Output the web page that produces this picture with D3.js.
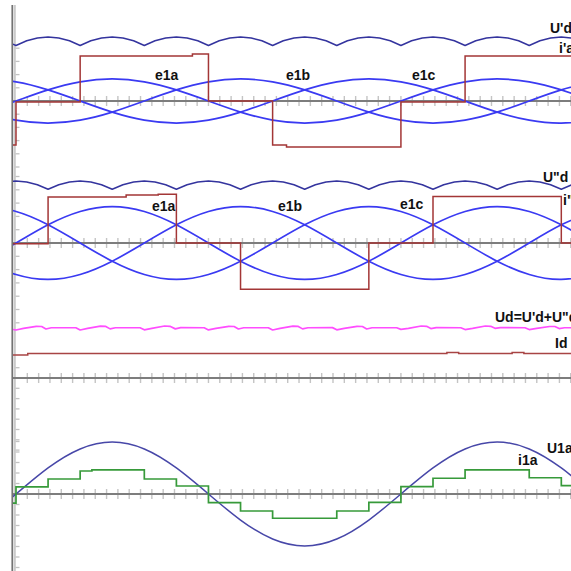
<!DOCTYPE html>
<html>
<head>
<meta charset="utf-8">
<script src="https://cdn.jsdelivr.net/npm/d3@7/dist/d3.min.js"></script>
<style>
  body { margin: 0; background: #fff; }
  svg { display: block; }
  text { font-family: "Liberation Sans", Arial, sans-serif; font-weight: bold; font-size: 14px; fill: #111; }
</style>
</head>
<body>
<div id="chart"></div>
<script>
const WIDTH = 571;
const HEIGHT = 571;

// --------------- Data (electrical angle in degrees, values in grid units) ---------------
// sine samples every 30 degrees, from -30 to 540
const sineAngles = d3.range(-30, 541, 30);
const e1a_top = [-0.84, 0, 0.84, 1.45, 1.67, 1.45, 0.84, 0, -0.84, -1.45, -1.67, -1.45, -0.84, 0, 0.84, 1.45, 1.67, 1.45, 0.84, 0];
const e1b_top = [-0.84, -1.45, -1.67, -1.45, -0.84, 0, 0.84, 1.45, 1.67, 1.45, 0.84, 0, -0.84, -1.45, -1.67, -1.45, -0.84, 0, 0.84, 1.45];
const e1c_top = [1.67, 1.45, 0.84, 0, -0.84, -1.45, -1.67, -1.45, -0.84, 0, 0.84, 1.45, 1.67, 1.45, 0.84, 0, -0.84, -1.45, -1.67, -1.45];

const e1a_mid = [-1.37, 0, 1.37, 2.37, 2.74, 2.37, 1.37, 0, -1.37, -2.37, -2.74, -2.37, -1.37, 0, 1.37, 2.37, 2.74, 2.37, 1.37, 0];
const e1b_mid = [-1.37, -2.37, -2.74, -2.37, -1.37, 0, 1.37, 2.37, 2.74, 2.37, 1.37, 0, -1.37, -2.37, -2.74, -2.37, -1.37, 0, 1.37, 2.37];
const e1c_mid = [2.74, 2.37, 1.37, 0, -1.37, -2.37, -2.74, -2.37, -1.37, 0, 1.37, 2.37, 2.74, 2.37, 1.37, 0, -1.37, -2.37, -2.74, -2.37];

const u1a = [-2.48, 0, 2.48, 4.29, 4.95, 4.29, 2.48, 0, -2.48, -4.29, -4.95, -4.29, -2.48, 0, 2.48, 4.29, 4.95, 4.29, 2.48, 0];

// rectified voltages sampled every 10 degrees, from -10 to 520
const rippleAngles = d3.range(-10, 521, 10);
const udPrime = [4.56,
  4.2, 4.56, 4.77, 4.85, 4.77, 4.56, 4.2, 4.56, 4.77, 4.85, 4.77, 4.56,
  4.2, 4.56, 4.77, 4.85, 4.77, 4.56, 4.2, 4.56, 4.77, 4.85, 4.77, 4.56,
  4.2, 4.56, 4.77, 4.85, 4.77, 4.56, 4.2, 4.56, 4.77, 4.85, 4.77, 4.56,
  4.2, 4.56, 4.77, 4.85, 4.77, 4.56, 4.2, 4.56, 4.77, 4.85, 4.77, 4.56,
  4.2, 4.56, 4.77, 4.85, 4.77];
const udSecond = [4.59,
  4.66, 4.59, 4.38, 4.04, 4.38, 4.59, 4.66, 4.59, 4.38, 4.04, 4.38, 4.59,
  4.66, 4.59, 4.38, 4.04, 4.38, 4.59, 4.66, 4.59, 4.38, 4.04, 4.38, 4.59,
  4.66, 4.59, 4.38, 4.04, 4.38, 4.59, 4.66, 4.59, 4.38, 4.04, 4.38, 4.59,
  4.66, 4.59, 4.38, 4.04, 4.38, 4.59, 4.66, 4.59, 4.38, 4.04, 4.38, 4.59,
  4.66, 4.59, 4.38, 4.04, 4.38];

// total output voltage Ud (angle, value)
const udTotal = [[-4, 4.73], [0, 4.66], [7, 4.81], [19, 5.02], [24, 5.0], [28, 4.76], [33, 4.88], [56, 4.88],
  [60, 4.66], [67, 4.81], [79, 5.03], [84, 5.01], [88, 4.77], [93, 4.88], [116, 4.88],
  [120, 4.68], [127, 4.82], [139, 5.05], [144, 5.02], [149, 4.77], [154, 4.89], [176, 4.88],
  [180, 4.67], [187, 4.81], [199, 5.02], [204, 5.0], [208, 4.76], [213, 4.88], [236, 4.88],
  [240, 4.66], [247, 4.81], [259, 5.03], [264, 5.01], [268, 4.77], [273, 4.88], [296, 4.89],
  [300, 4.68], [307, 4.81], [319, 5.02], [324, 5.0], [328, 4.76], [333, 4.88], [356, 4.88],
  [360, 4.72], [367, 4.82], [379, 5.05], [384, 5.02], [388, 4.8], [393, 4.89], [416, 4.88],
  [420, 4.7], [427, 4.81], [439, 5.05], [444, 5.02], [448, 4.82], [453, 4.89], [476, 4.88],
  [480, 4.7], [487, 4.81], [499, 5.0], [504, 5.0], [508, 4.8], [513, 4.88], [525, 4.88]];

// step waveforms: switching angles and the level held after each one
const iaPrimeT = [-4, 0, 60, 165, 180, 240, 253, 360, 420, 525];
const iaPrimeV = [-3.33, -0.08, 3.41, 3.56, 0, -3.33, -3.48, -0.08, 3.41];

const iaSecondT = [-4, 30, 103, 133, 150, 210, 330, 390, 510, 525];
const iaSecondV = [-0.05, 3.46, 3.6, 3.67, 0, -3.48, 0, 3.5, 0];

const idT = [-4, 11, 403, 414, 464, 475, 525];
const idV = [2.23, 2.38, 2.48, 2.38, 2.48, 2.38];

const i1aT = [-4, 0, 30, 60, 71, 120, 150, 180, 210, 240, 300, 330, 360, 390, 420, 480, 510, 525];
const i1aV = [-0.86, 0.67, 1.43, 2.19, 2.29, 1.43, 0.76, -0.83, -1.62, -2.31, -1.62, -0.8, 0.7, 1.5, 2.29, 1.55, 0.79];

const labelTexts = ["U'd", "i'a", "e1a", "e1b", "e1c", "U\"d", "i\"a", "e1a", "e1b", "e1c", "Ud=U'd+U\"d", "Id", "U1a", "i1a"];

// --------------- Layout ---------------
const panels = [
  { zero: 101, unit: 13.2, kMin: -5, kMax: 4 },
  { zero: 243, unit: 13.3, kMin: -6, kMax: 5 },
  { zero: 378, unit: 10.3, kMin: -7, kMax: 1 },
  { zero: 494, unit: 10.5, kMin: -8, kMax: 5 }
];
const labelPos = [
  [550, 33], [559, 53], [155, 80], [286, 80], [412, 80],
  [543, 182], [563, 205], [152, 211], [278, 211], [400, 209],
  [495, 322], [555, 348], [547, 453], [518, 465]
];

const x = d3.scaleLinear().domain([0, 520]).range([16, 572]);
const yScales = panels.map(p => d3.scaleLinear()
  .domain([p.kMin, p.kMax])
  .range([p.zero - p.kMin * p.unit, p.zero - p.kMax * p.unit]));

const svg = d3.select("#chart").append("svg")
  .attr("width", WIDTH)
  .attr("height", HEIGHT);

svg.append("defs").append("clipPath").attr("id", "plot")
  .append("rect").attr("x", 13).attr("y", 0).attr("width", WIDTH - 13).attr("height", HEIGHT);

// vertical axis (double line)
svg.append("line").attr("x1", 14.6).attr("x2", 14.6).attr("y1", 5).attr("y2", HEIGHT)
  .attr("stroke", "#cacaca").attr("stroke-width", 2.4);
svg.append("line").attr("x1", 12.2).attr("x2", 12.2).attr("y1", 5).attr("y2", HEIGHT)
  .attr("stroke", "#6c6c6c").attr("stroke-width", 1.5);

const hTicks = d3.range(1, 50).map(k => k * 360 / 34);

panels.forEach((p, i) => {
  const y = yScales[i];
  const g = svg.append("g");
  // left ticks
  g.selectAll(".vt").data(d3.range(p.kMin, p.kMax + 1)).enter().append("line")
    .attr("x1", 15.5).attr("x2", 19.5)
    .attr("y1", d => y(d)).attr("y2", d => y(d))
    .attr("stroke", "#c2c2c2").attr("stroke-width", 1.3);
  // time ticks
  g.selectAll(".ht").data(hTicks).enter().append("line")
    .attr("x1", d => x(d)).attr("x2", d => x(d))
    .attr("y1", y(0) - 5).attr("y2", y(0) + 5)
    .attr("stroke", "#c4c4c4").attr("stroke-width", 1.4);
  // zero line
  g.append("line").attr("x1", 13).attr("x2", WIDTH)
    .attr("y1", y(0)).attr("y2", y(0))
    .attr("stroke", "#7d7d7d").attr("stroke-width", 2.2);
});

const plot = svg.append("g").attr("clip-path", "url(#plot)");

function smooth(panel, angles, values, color, width) {
  const y = yScales[panel];
  const line = d3.line().x(d => x(d[0])).y(d => y(d[1])).curve(d3.curveNatural);
  plot.append("path").datum(angles.map((a, i) => [a, values[i]]))
    .attr("d", line).attr("fill", "none")
    .attr("stroke", color).attr("stroke-width", width);
}

function polyline(panel, points, color, width) {
  const y = yScales[panel];
  const line = d3.line().x(d => x(d[0])).y(d => y(d[1]));
  plot.append("path").datum(points)
    .attr("d", line).attr("fill", "none")
    .attr("stroke", color).attr("stroke-width", width)
    .attr("stroke-linejoin", "round");
}

function steps(panel, t, v, color, width) {
  const y = yScales[panel];
  const pts = v.map((val, i) => [t[i], val]);
  pts.push([t[t.length - 1], v[v.length - 1]]);
  const line = d3.line().x(d => x(d[0])).y(d => y(d[1])).curve(d3.curveStepAfter);
  plot.append("path").datum(pts)
    .attr("d", line).attr("fill", "none")
    .attr("stroke", color).attr("stroke-width", width);
}

const BLUE = "#3a3af2";
const NAVY = "#34349e";
const RED = "#a33636";

// panel 1
polyline(0, rippleAngles.map((a, i) => [a, udPrime[i]]), NAVY, 1.5);
smooth(0, sineAngles, e1a_top, BLUE, 1.7);
smooth(0, sineAngles, e1b_top, BLUE, 1.7);
smooth(0, sineAngles, e1c_top, BLUE, 1.7);
steps(0, iaPrimeT, iaPrimeV, RED, 1.5);

// panel 2
polyline(1, rippleAngles.map((a, i) => [a, udSecond[i]]), NAVY, 1.5);
smooth(1, sineAngles, e1a_mid, BLUE, 1.7);
smooth(1, sineAngles, e1b_mid, BLUE, 1.7);
smooth(1, sineAngles, e1c_mid, BLUE, 1.7);
steps(1, iaSecondT, iaSecondV, RED, 1.5);

// panel 3
polyline(2, udTotal, "#ff4dff", 1.7);
steps(2, idT, idV, "#a84444", 1.5);

// panel 4
smooth(3, sineAngles, u1a, "#4747a8", 1.5);
steps(3, i1aT, i1aV, "#379a3a", 1.7);

// labels
svg.selectAll(".lbl").data(labelTexts).enter().append("text")
  .attr("x", (d, i) => labelPos[i][0])
  .attr("y", (d, i) => labelPos[i][1])
  .text(d => d);
</script>
</body>
</html>
